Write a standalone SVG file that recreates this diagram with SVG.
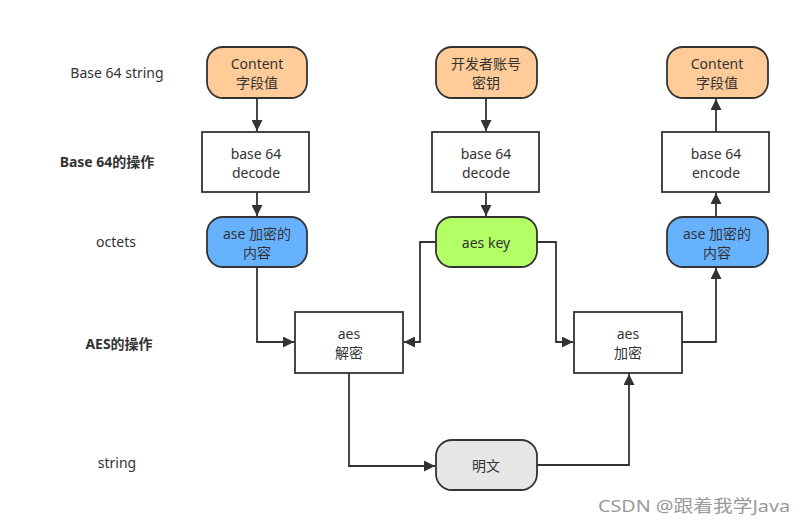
<svg xmlns="http://www.w3.org/2000/svg" width="802" height="523" viewBox="0 0 802 523">
<defs>
<marker id="ah" viewBox="0 0 10 10" refX="10" refY="5" markerWidth="11" markerHeight="11" markerUnits="userSpaceOnUse" orient="auto">
<path d="M0,0 L10,5 L0,10 Z" fill="#333"/>
</marker>
<style>
text{font-family:"Noto Sans","Noto Sans CJK SC",sans-serif;font-size:14px;fill:#333;text-anchor:middle;dominant-baseline:central}
.b{font-weight:bold}
.n{stroke:#333;stroke-width:1.8}
.c{fill:none;stroke:#333;stroke-width:1.8;marker-end:url(#ah)}
.peach{fill:#FFCC99}
.blue{fill:#66B2FF}
.green{fill:#B3FF66}
.gray{fill:#E6E6E6}
.box{fill:#fff}
</style>
</defs>
<rect width="802" height="523" fill="#fff"/>
<g id="labels">
<text x="117" y="72">Base 64 string</text>
<text x="107" y="161" class="b">Base 64的操作</text>
<text x="116" y="241">octets</text>
<text x="119" y="343" class="b">AES的操作</text>
<text x="117" y="462">string</text>
</g>
<g id="connectors">
<path class="c" d="M257,98 V131"/>
<path class="c" d="M257,192 V216"/>
<path class="c" d="M486,98 V131"/>
<path class="c" d="M486,192 V216"/>
<path class="c" d="M716,132 V99"/>
<path class="c" d="M716,217 V193"/>
<path class="c" d="M257,267 V342 H294"/>
<path class="c" d="M436,242 H420 V342 H404"/>
<path class="c" d="M537,242 H556 V342 H573"/>
<path class="c" d="M349,373 V466 H435"/>
<path class="c" d="M537,465 H629 V374"/>
<path class="c" d="M682,342 H716 V268"/>
</g>
<g id="n1"><rect class="n peach" x="207" y="47" width="100" height="51" rx="16"/><text x="257" y="63">Content</text><text x="257" y="82">字段值</text></g>
<g id="n2"><rect class="n box" x="202" y="132" width="107" height="60"/><text x="256" y="153">base 64</text><text x="256" y="172">decode</text></g>
<g id="n3"><rect class="n blue" x="207" y="217" width="100" height="50" rx="16"/><text x="257" y="233">ase 加密的</text><text x="257" y="252">内容</text></g>
<g id="n4"><rect class="n peach" x="436" y="47" width="101" height="51" rx="16"/><text x="486" y="63">开发者账号</text><text x="486" y="82">密钥</text></g>
<g id="n5"><rect class="n box" x="432" y="132" width="107" height="60"/><text x="486" y="153">base 64</text><text x="486" y="172">decode</text></g>
<g id="n6"><rect class="n green" x="436" y="217" width="101" height="50" rx="16"/><text x="486" y="242">aes key</text></g>
<g id="n7"><rect class="n peach" x="667" y="47" width="101" height="51" rx="16"/><text x="717" y="63">Content</text><text x="717" y="82">字段值</text></g>
<g id="n8"><rect class="n box" x="662" y="132" width="107" height="60"/><text x="716" y="153">base 64</text><text x="716" y="172">encode</text></g>
<g id="n9"><rect class="n blue" x="667" y="217" width="101" height="50" rx="16"/><text x="717" y="233">ase 加密的</text><text x="717" y="252">内容</text></g>
<g id="n10"><rect class="n box" x="295" y="312" width="108" height="61"/><text x="349" y="333">aes</text><text x="349" y="352">解密</text></g>
<g id="n11"><rect class="n box" x="574" y="312" width="108" height="61"/><text x="628" y="333">aes</text><text x="628" y="352">加密</text></g>
<g id="n12"><rect class="n gray" x="436" y="440" width="101" height="50" rx="16"/><text x="486" y="465">明文</text></g>
<text x="694" y="505" textLength="192" lengthAdjust="spacingAndGlyphs" style="font-size:17px;fill:#999">CSDN @跟着我学Java</text>
</svg>
